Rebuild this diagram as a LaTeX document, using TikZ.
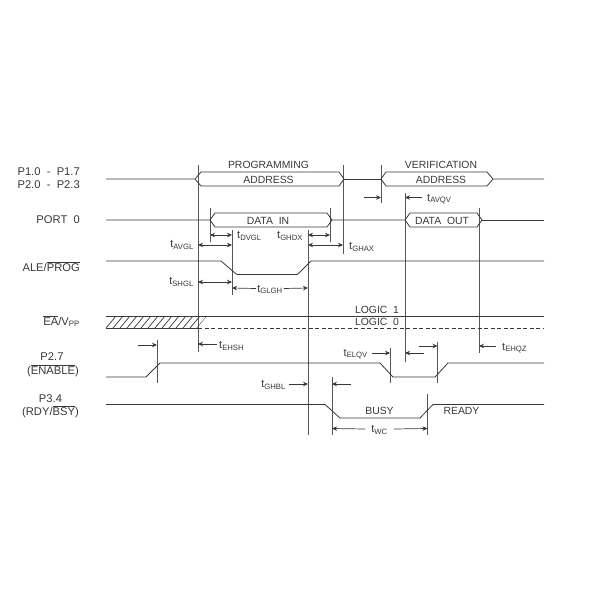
\documentclass[tikz,border=0pt]{standalone}
\usepackage{fontspec}
\setmainfont{Liberation Sans}
\usetikzlibrary{arrows.meta}
\newcommand{\tsub}[1]{t\textsubscript{#1}}
\newcommand{\ovl}[1]{$\overline{\mbox{#1}}$}
\definecolor{ink}{gray}{0.22}
\tikzset{
	signal/.style={draw,ink,line width=.8pt},
	guide/.style={draw,ink!85,line width=.8pt},
	dsignal/.style={draw,ink,line width=.8pt,dash pattern=on 4pt off 2.5pt},
	hatch/.style={draw,ink,line width=.7pt},
	tip/.style={draw,ink,line width=.7pt,-{Stealth[length=5pt,width=4.5pt]}},
	dtip/.style={draw,ink,line width=.7pt,{Stealth[length=5pt,width=4.5pt]}-{Stealth[length=5pt,width=4.5pt]}},
	lbl/.style={inner sep=0pt,text=ink,font=\fontsize{10.4}{12}\selectfont},
	tlbl/.style={lbl,font=\fontsize{11}{12}\selectfont},
	pin/.style={lbl,font=\fontsize{11.2}{12}\selectfont,anchor=east,align=right}
}
\begin{document}
\begin{tikzpicture}[x = 1pt, y = -1pt]

\useasboundingbox (0,0) rectangle (600,600);

% guide lines
\coordinate (aT) at (198,165);  \coordinate (aB) at (198,352);
\coordinate (bT) at (210,208);  \coordinate (bB) at (210,242);
\coordinate (cT) at (232,230);  \coordinate (cB) at (232,295);
\coordinate (dT) at (308,230);  \coordinate (dB) at (308,435);
\coordinate (eT) at (330,208);  \coordinate (eB) at (330,242);
\coordinate (fT) at (343,165);  \coordinate (fB) at (343,254);
\coordinate (gT) at (381,165);  \coordinate (gB) at (381,203);
\coordinate (hT) at (405,193);  \coordinate (hB) at (405,362);
\coordinate (iT) at (479,208);  \coordinate (iB) at (479,353);
\coordinate (jT) at (157,340);  \coordinate (jB) at (157,383);
\coordinate (kT) at (390,348);  \coordinate (kB) at (390,383);
\coordinate (lT) at (437.5,342);  \coordinate (lB) at (437.5,383);
\coordinate (mT) at (332,377);  \coordinate (mB) at (332,435);
\coordinate (nT) at (427.5,394);  \coordinate (nB) at (427.5,435);

\foreach \g in {a,b,c,d,e,f,g,h,i,j,k,l,m,n}
	\draw[guide] (\g T) to (\g B);

% hatched part of EA/Vpp
\begin{scope}
	\clip (106,316) -- (207,316) -- (197,328) -- (106,328) -- cycle;
	\foreach \x in {106,113,...,218}
		\draw[hatch] (\x,328) -- ++(10,-12);
\end{scope}

% signals
\draw[signal] (106,179) -- (195,179) -- (201,172) -- (339,172) -- (344,179)
	-- (339,186) -- (201,186) -- (195,179);
\draw[signal,line width=1pt] (344,179) -- (381,179);
\draw[signal] (493,179) -- (487,172) -- (386,172) -- (381,179) -- (386,186)
	-- (487,186) -- (493,179) -- (544,179);
\draw[signal] (106,220) -- (210,220) -- (215,213) -- (327,213) -- (332,220)
	-- (327,227) -- (215,227) -- (210,220);
\draw[signal] (332,220) -- (405,220) -- (410,213) -- (477,213) -- (482,220)
	-- (477,227) -- (410,227) -- (405,220);
\draw[signal] (482,220) -- (544,220);
\draw[signal] (106,261) -- (221,261) -- (235,273) -- (237,274.5) -- (297,274.5)
	-- (299,273) -- (311,261) -- (544,261);
\draw[signal] (106,316) -- (544,316);
\draw[signal] (106,328) -- (198,328);
\draw[dsignal] (198,328) -- (544,328);
\draw[signal] (106,377) -- (146,377) -- (160,363) -- (380,363) -- (393,377)
	-- (435,377) -- (448,363) -- (544,363);
\draw[signal] (106,404.5) -- (325,404.5) -- (340,418) -- (420,418) -- (433,404.5) -- (544,404.5);

% pin names
\node[pin] (p1) at (80,172) {P1.0\ \ -\ \ P1.7};
\node[pin] (p2) at (80,185) {P2.0\ \ -\ \ P2.3};
\node[pin] (port) at (80,220) {PORT\ \ 0};
\node[pin] (ale) at (80,266.5) {ALE/\ovl{PROG}};
\node[pin] (ea) at (80,321) {\ovl{EA}/V\textsubscript{PP}};
\node[pin,anchor=center] (en) at (52,357) {P2.7};
\node[pin] (enb) at (79,371) {(\ovl{ENABLE})};
\node[pin,anchor=center] (rd) at (50.5,399) {P3.4};
\node[pin] (rdy) at (79,412) {(RDY/\ovl{BSY})};

% texts on the signals
\node[lbl] (prog) at (268.5,165) {PROGRAMMING};
\node[lbl] (adr) at (268.5,179.5) {ADDRESS};
\node[lbl] (ver) at (441,165) {VERIFICATION};
\node[lbl] (vadr) at (441,179.5) {ADDRESS};
\node[lbl] (din) at (268,220.5) {DATA\ \ IN};
\node[lbl] (dout) at (442,220.5) {DATA\ \ OUT};
\node[lbl] (lo) at (377,310) {LOGIC\ \ 1};
\node[lbl] (lz) at (377,322) {LOGIC\ \ 0};
\node[lbl] (busy) at (379.5,411) {BUSY};
\node[lbl] (rdyt) at (461.5,411) {READY};

% timing names
\node[tlbl,anchor=west] (dvgl) at (237,236) {\tsub{DVGL}};
\node[tlbl,anchor=west] (ghdx) at (277,236) {\tsub{GHDX}};
\node[tlbl,anchor=east] (avgl) at (194,245) {\tsub{AVGL}};
\node[tlbl,anchor=east] (shgl) at (194,282) {\tsub{SHGL}};
\node[tlbl] (glgh) at (270,289.5) {\tsub{GLGH}};
\node[tlbl,anchor=west] (ghax) at (349,247) {\tsub{GHAX}};
\node[tlbl,anchor=west] (avqv) at (427,199) {\tsub{AVQV}};
\node[tlbl,anchor=west] (ehsh) at (219,346) {\tsub{EHSH}};
\node[tlbl,anchor=east] (ghbl) at (286,385) {\tsub{GHBL}};
\node[tlbl,anchor=east] (elqv) at (368,354) {\tsub{ELQV}};
\node[tlbl,anchor=west] (ehqz) at (502,348) {\tsub{EHQZ}};
\node[tlbl] (wc) at (379.5,430) {\tsub{WC}};

% arrows
\draw[dtip] (210,235) to (232,235);
\draw[dtip] (198,245) to (232,245);
\draw[dtip] (198,282) to (232,282);
\draw[dtip] (308,235) to (330,235);
\draw[dtip] (308,245) to (343,245);
\draw[tip] (glgh.west) ++(-1,-1) -- (232,288);
\draw[tip] (glgh.east) ++(1,-1) -- (308,288);
\draw[tip] (wc.west) ++(-6,-1) -- (332,428.5);
\draw[tip] (wc.east) ++(6,-1) -- (427.5,428.5);
\draw[tip] (364,197.5) to (381,197.5);
\draw[tip] (avqv.west) ++(-5,-1.5) -- (405,197.5);
\draw[tip] (ehsh.west) ++(-2,-2) -- (198,344);
\draw[tip] (138,345) to (157,345);
\draw[tip] (ehqz.west) ++(-6,-2) -- (479,346);
\draw[tip] (elqv.east) ++(4,-1) -- (390,353);
\draw[tip] (424,353) to (405,353);
\draw[tip] (419,346) to (437.5,346);
\draw[tip] (ghbl.east) ++(3,-1) -- (308,384);
\draw[tip] (351,384) to (332,384);

\end{tikzpicture}
\end{document}
